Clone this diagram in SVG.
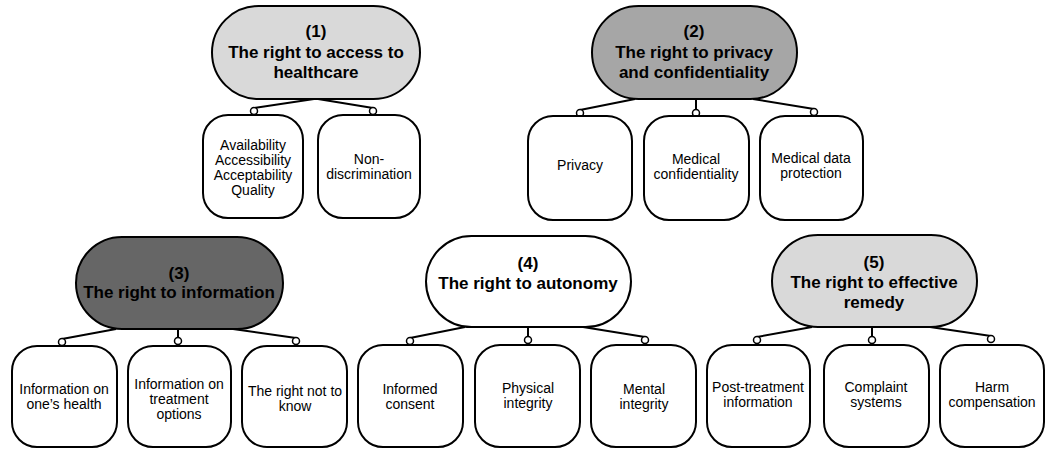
<svg xmlns="http://www.w3.org/2000/svg" width="1046" height="449" viewBox="0 0 1046 449">
<style>
.pill{stroke:#000;stroke-width:2}
.box{fill:#fff;stroke:#000;stroke-width:2}
.t{font-family:"Liberation Sans",Arial,sans-serif;font-size:17px;font-weight:bold;text-anchor:middle;fill:#000}
.c{font-family:"Liberation Sans",Arial,sans-serif;font-size:14px;text-anchor:middle;fill:#000}
.ln{stroke:#000;stroke-width:2;fill:none}
.dot{fill:#fff;stroke:#000;stroke-width:1.5}
</style>
<rect width="1046" height="449" fill="#fff"/>
<g id="connectors">
<path class="ln" d="M314 99 L254 108 M318 99 L373 108"/>
<path class="ln" d="M635 99 L580 110 M696 99 L696 110 M753 99 L814 109"/>
<path class="ln" d="M116 329 L62 339 M178 329 L178 338 M233 329 L296 338"/>
<path class="ln" d="M465 327 L410 338 M528 327 L528 337 M583 327 L645 337"/>
<path class="ln" d="M812 327 L757 337 M872 327 L872 337 M930 327 L991 336"/>
<circle class="dot" cx="254" cy="111" r="3.5"/><circle class="dot" cx="373" cy="111" r="3.5"/>
<circle class="dot" cx="580" cy="113" r="3.5"/><circle class="dot" cx="696" cy="113" r="3.5"/><circle class="dot" cx="814" cy="112" r="3.5"/>
<circle class="dot" cx="62" cy="342" r="3.5"/><circle class="dot" cx="178" cy="341" r="3.5"/><circle class="dot" cx="296" cy="341" r="3.5"/>
<circle class="dot" cx="410" cy="341" r="3.5"/><circle class="dot" cx="528" cy="340" r="3.5"/><circle class="dot" cx="645" cy="340" r="3.5"/>
<circle class="dot" cx="757" cy="340" r="3.5"/><circle class="dot" cx="872" cy="340" r="3.5"/><circle class="dot" cx="991" cy="339" r="3.5"/>
</g>
<g id="n1"><rect class="pill" x="212" y="6" width="208" height="93" rx="46.5" fill="#d9d9d9"/>
<text class="t" x="316" y="37">(1)</text><text class="t" x="316" y="58">The right to access to</text><text class="t" x="316" y="78">healthcare</text></g>
<g id="n1a"><rect class="box" x="203" y="115" width="100" height="103" rx="25"/>
<text class="c" x="253" y="150">Availability</text><text class="c" x="253" y="165">Accessibility</text><text class="c" x="253" y="180">Acceptability</text><text class="c" x="253" y="195">Quality</text></g>
<g id="n1b"><rect class="box" x="318" y="115" width="102" height="103" rx="25"/>
<text class="c" x="369" y="164">Non-</text><text class="c" x="369" y="179">discrimination</text></g>
<g id="n2"><rect class="pill" x="592" y="6" width="205" height="93" rx="46.5" fill="#a6a6a6"/>
<text class="t" x="694" y="37">(2)</text><text class="t" x="694" y="58">The right to privacy</text><text class="t" x="694" y="78">and confidentiality</text></g>
<g id="n2a"><rect class="box" x="528" y="116" width="104" height="104" rx="25"/>
<text class="c" x="580" y="170">Privacy</text></g>
<g id="n2b"><rect class="box" x="644" y="116" width="105" height="104" rx="25"/>
<text class="c" x="696" y="164">Medical</text><text class="c" x="696" y="179">confidentiality</text></g>
<g id="n2c"><rect class="box" x="760" y="116" width="103" height="104" rx="25"/>
<text class="c" x="811" y="163">Medical data</text><text class="c" x="811" y="178">protection</text></g>
<g id="n3"><rect class="pill" x="76" y="237" width="207" height="92" rx="46" fill="#666666"/>
<text class="t" x="179" y="279">(3)</text><text class="t" x="179" y="298">The right to information</text></g>
<g id="n3a"><rect class="box" x="12" y="346" width="105" height="101" rx="25"/>
<text class="c" x="64" y="394">Information on</text><text class="c" x="64" y="409">one’s health</text></g>
<g id="n3b"><rect class="box" x="128" y="346" width="103" height="101" rx="25"/>
<text class="c" x="179" y="389">Information on</text><text class="c" x="179" y="404">treatment</text><text class="c" x="179" y="419">options</text></g>
<g id="n3c"><rect class="box" x="242" y="346" width="105" height="101" rx="25"/>
<text class="c" x="295" y="396">The right not to</text><text class="c" x="295" y="411">know</text></g>
<g id="n4"><rect class="pill" x="426" y="236" width="205" height="91" rx="45.5" fill="#fff"/>
<text class="t" x="528" y="269">(4)</text><text class="t" x="528" y="289">The right to autonomy</text></g>
<g id="n4a"><rect class="box" x="358" y="345" width="105" height="102" rx="25"/>
<text class="c" x="410" y="394">Informed</text><text class="c" x="410" y="409">consent</text></g>
<g id="n4b"><rect class="box" x="475" y="345" width="105" height="102" rx="25"/>
<text class="c" x="528" y="393">Physical</text><text class="c" x="528" y="408">integrity</text></g>
<g id="n4c"><rect class="box" x="591" y="345" width="105" height="102" rx="25"/>
<text class="c" x="644" y="394">Mental</text><text class="c" x="644" y="409">integrity</text></g>
<g id="n5"><rect class="pill" x="772" y="235" width="205" height="92" rx="46" fill="#d9d9d9"/>
<text class="t" x="874" y="268">(5)</text><text class="t" x="874" y="288">The right to effective</text><text class="t" x="874" y="308">remedy</text></g>
<g id="n5a"><rect class="box" x="707" y="345" width="103" height="102" rx="25"/>
<text class="c" x="758" y="392">Post-treatment</text><text class="c" x="758" y="407">information</text></g>
<g id="n5b"><rect class="box" x="824" y="345" width="105" height="102" rx="25"/>
<text class="c" x="876" y="392">Complaint</text><text class="c" x="876" y="407">systems</text></g>
<g id="n5c"><rect class="box" x="940" y="345" width="104" height="102" rx="25"/>
<text class="c" x="992" y="392">Harm</text><text class="c" x="992" y="407">compensation</text></g>
</svg>
